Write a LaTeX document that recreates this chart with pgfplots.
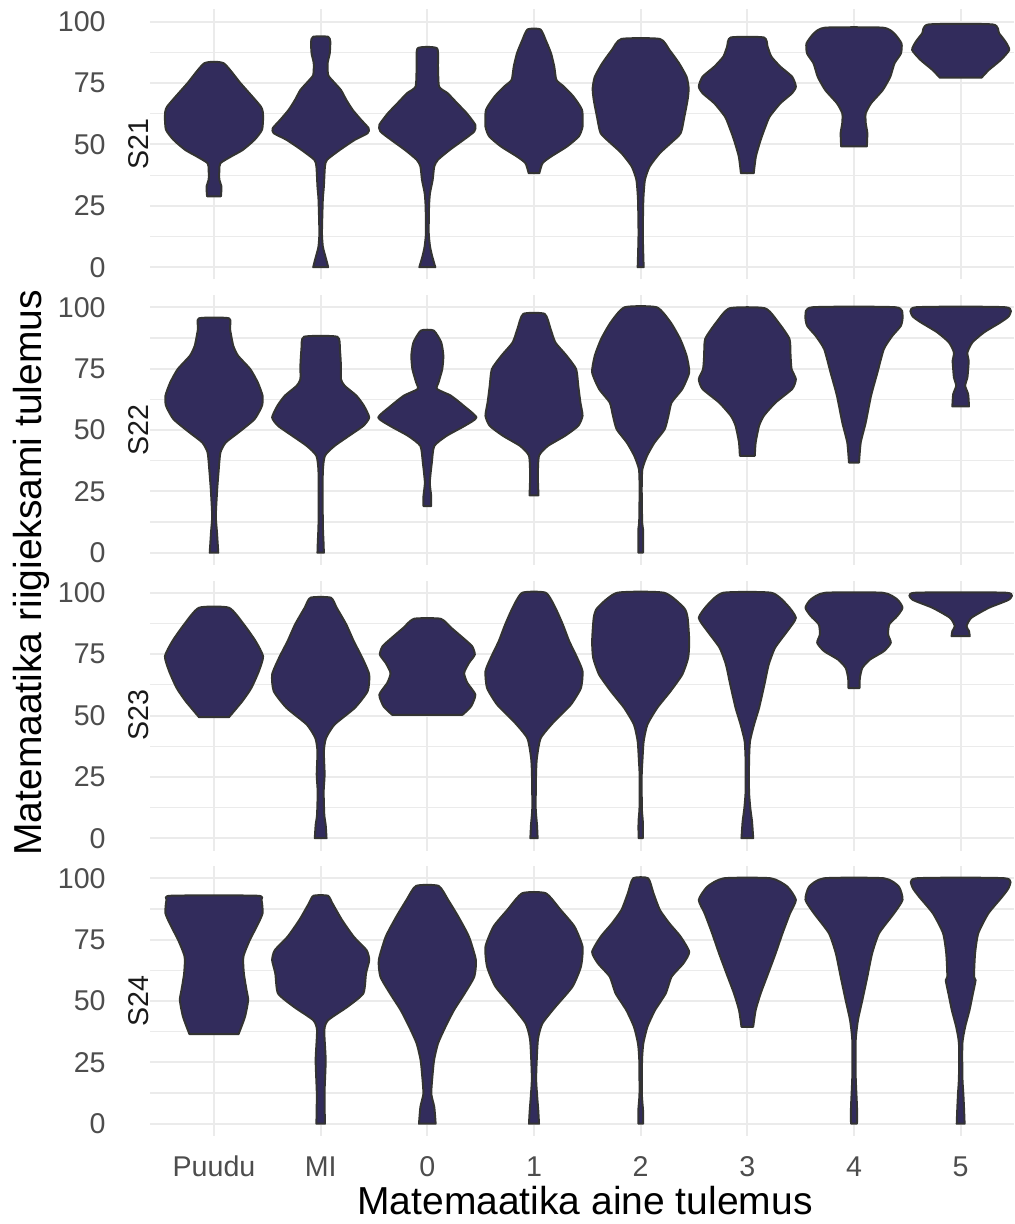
\documentclass[border=0pt]{standalone}
\usepackage{pgfplots}
\pgfplotsset{compat=1.18}
\usepackage{fontspec}
\setmainfont{Liberation Sans}
\definecolor{vfill}{RGB}{50,44,92}
\definecolor{vline}{HTML}{333333}
\definecolor{grid92}{HTML}{EBEBEB}
\definecolor{grey30}{HTML}{4D4D4D}
\definecolor{grey10}{HTML}{1A1A1A}

% #1 = category position, #2 = list of y/halfwidth (measured profile, bottom to top)
\newcommand\violin[2]{%
  \gdef\vR{}\gdef\vL{}%
  \foreach \yy/\ww in {#2}{%
    \pgfmathsetmacro\xr{#1+\ww}%
    \pgfmathsetmacro\xl{#1-\ww}%
    \xdef\vR{\vR(\xr,\yy) }%
    \xdef\vL{(\xl,\yy) \vL}%
  }%
  \edef\vtmp{\noexpand\addplot[violin] coordinates {\vR\vL} -- cycle;}%
  \vtmp
}

\pgfplotsset{
  violin/.style={fill=vfill, draw=vline, line width=1pt, line join=round, mark=none, smooth, tension=0.35},
  panel/.style={
    scale only axis, width=432pt, height=135pt, anchor=north west,
    xmin=0.4, xmax=8.5, ymin=-5, ymax=105,
    axis line style={draw=none},
    major tick length=0pt, minor tick length=0pt,
    xtick={1,...,8}, ytick={0,25,50,75,100}, minor ytick={12.5,37.5,62.5,87.5},
    xmajorgrids, ymajorgrids, yminorgrids,
    major grid style={draw=grid92, line width=1pt},
    minor grid style={draw=grid92, line width=0.6pt},
    xticklabels={},
    /pgf/number format/assume math mode=true,
    yticklabel style={font=\fontsize{14.3}{16}\selectfont, text=grey30, anchor=east, inner sep=0pt, xshift=-22pt},
  }
}

\begin{document}
\begin{tikzpicture}
\path[use as bounding box] (0,0) rectangle (507pt,-612pt);

% ---------------- S21 ----------------
\begin{axis}[panel, at={(75pt,-4.75pt)}]
\violin{1}{28.9/0.065, 32.9/0.07, 35.6/0.05, 39.7/0.05, 42.4/0.06, 45.1/0.16, 47.8/0.27, 51.9/0.38, 56.0/0.45, 61.4/0.46, 65.4/0.44, 74.9/0.25, 83.1/0.09}
\violin{2}{0/0.07, 1.8/0.06, 5.8/0.035, 8.5/0.02, 14.0/0.012, 27.5/0.02, 32.9/0.03, 41.1/0.04, 43.8/0.06, 47.8/0.18, 51.9/0.32, 54.6/0.44, 56.6/0.45, 60.0/0.38, 64.1/0.30, 68.2/0.24, 72.2/0.19, 75.6/0.12, 78.3/0.07, 83.1/0.065, 87.1/0.085, 91.9/0.09, 93.9/0.07}
\violin{3}{0/0.075, 4.5/0.045, 8.5/0.025, 14.0/0.013, 24.8/0.016, 30.2/0.025, 35.6/0.05, 41.1/0.065, 43.8/0.10, 47.8/0.21, 51.9/0.34, 55.3/0.44, 58.0/0.45, 62.7/0.37, 66.8/0.28, 70.9/0.19, 73.6/0.11, 81.7/0.10, 89.2/0.09}
\violin{4}{38.3/0.05, 42.4/0.08, 45.1/0.16, 49.2/0.31, 53.3/0.42, 57.3/0.455, 64.1/0.45, 69.5/0.37, 73.6/0.28, 76.3/0.21, 81.7/0.19, 87.1/0.16, 92.5/0.11, 96.9/0.06}
\violin{5}{0/0.028, 5.8/0.024, 14.0/0.02, 27.5/0.025, 35.6/0.04, 41.1/0.085, 46.5/0.18, 50.5/0.28, 54.6/0.375, 61.4/0.41, 68.2/0.44, 72.9/0.45, 77.6/0.43, 83.1/0.36, 88.5/0.27, 93.0/0.18}
\violin{6}{38.3/0.06, 45.1/0.08, 51.9/0.125, 57.3/0.17, 61.4/0.21, 66.8/0.31, 70.9/0.42, 73.6/0.455, 77.6/0.42, 81.7/0.31, 85.8/0.225, 89.8/0.19, 93.6/0.155}
\violin{7}{49.2/0.12, 54.6/0.125, 58.7/0.11, 62.7/0.11, 66.8/0.16, 72.2/0.27, 77.6/0.34, 83.1/0.38, 87.1/0.44, 91.2/0.445, 95.3/0.375, 97.6/0.27}
\violin{8}{77.2/0.195, 80.4/0.265, 84.4/0.375, 88.5/0.455, 91.9/0.42, 95.3/0.36, 98.9/0.30}
\end{axis}

% ---------------- S22 ----------------
\begin{axis}[panel, at={(75pt,-147.5pt)}]
\violin{1}{0/0.04, 8.2/0.028, 15.0/0.017, 25.9/0.03, 32.7/0.042, 40.8/0.06, 44.9/0.11, 49.0/0.23, 54.4/0.38, 59.9/0.45, 64.0/0.455, 69.4/0.41, 74.8/0.34, 80.3/0.225, 84.4/0.18, 91.2/0.15, 95.5/0.14}
\violin{2}{0/0.03, 4.1/0.027, 12.2/0.02, 32.7/0.02, 39.5/0.04, 43.5/0.13, 47.6/0.265, 51.7/0.40, 55.1/0.455, 59.9/0.405, 64.0/0.335, 68.0/0.225, 70.7/0.19, 76.2/0.19, 83.0/0.18, 88.0/0.155}
\violin{3}{19.0/0.036, 23.1/0.036, 28.6/0.023, 36.7/0.042, 43.5/0.065, 47.6/0.18, 51.7/0.35, 55.1/0.46, 59.9/0.34, 64.0/0.22, 66.7/0.09, 69.4/0.105, 74.8/0.14, 80.3/0.15, 85.7/0.13, 90.5/0.06}
\violin{4}{23.4/0.042, 31.3/0.036, 39.5/0.047, 43.5/0.13, 47.6/0.29, 51.7/0.415, 55.8/0.455, 61.2/0.435, 68.0/0.415, 74.8/0.395, 80.3/0.305, 85.7/0.2, 91.2/0.155, 97.3/0.10}
\violin{5}{0/0.022, 9.5/0.022, 12.2/0.014, 25.9/0.01, 34.0/0.016, 39.5/0.06, 44.9/0.13, 50.3/0.225, 55.8/0.26, 61.2/0.29, 66.7/0.39, 73.5/0.455, 80.3/0.43, 87.1/0.37, 93.9/0.28, 100/0.15}
\violin{6}{39.5/0.07, 44.9/0.078, 51.7/0.11, 55.8/0.155, 61.2/0.265, 66.7/0.42, 70.7/0.455, 74.8/0.415, 80.3/0.405, 87.1/0.395, 93.9/0.29, 99.6/0.165}
\violin{7}{36.7/0.047, 44.9/0.063, 53.1/0.11, 64.0/0.16, 73.5/0.22, 83.0/0.28, 88.4/0.36, 92.5/0.44, 96.6/0.455, 100/0.39}
\violin{8}{59.6/0.078, 64.6/0.07, 68.0/0.042, 71.4/0.063, 74.8/0.07, 78.2/0.075, 81.6/0.063, 85.7/0.11, 89.8/0.22, 93.9/0.375, 96.6/0.455, 100/0.42}
\end{axis}

% ---------------- S23 ----------------
\begin{axis}[panel, at={(75pt,-290.25pt)}]
\violin{1}{49.3/0.14, 55.8/0.265, 61.2/0.35, 68.0/0.42, 74.1/0.46, 80.3/0.39, 87.1/0.28, 93.9/0.14}
\violin{2}{0/0.055, 5.4/0.047, 9.5/0.034, 19.0/0.028, 25.9/0.037, 35.4/0.03, 40.8/0.05, 46.3/0.13, 53.1/0.32, 59.9/0.44, 66.7/0.455, 73.5/0.39, 80.3/0.31, 87.1/0.24, 93.9/0.15, 98.0/0.095}
\violin{3}{50.3/0.33, 53.7/0.41, 58.5/0.45, 63.3/0.375, 67.3/0.345, 71.4/0.39, 74.8/0.445, 78.2/0.42, 81.6/0.335, 85.7/0.225, 89.4/0.125}
\violin{4}{0/0.034, 5.4/0.028, 12.2/0.016, 25.9/0.019, 32.7/0.027, 40.8/0.063, 47.6/0.19, 54.4/0.345, 61.2/0.44, 68.0/0.455, 73.5/0.405, 80.3/0.33, 87.1/0.27, 93.9/0.2, 100/0.11}
\violin{5}{0/0.02, 6.8/0.02, 12.2/0.011, 25.9/0.01, 31.3/0.016, 39.5/0.028, 46.3/0.063, 53.1/0.155, 59.9/0.28, 66.7/0.39, 73.5/0.445, 80.3/0.455, 89.8/0.44, 93.9/0.405, 100/0.22}
\violin{6}{0/0.055, 6.8/0.044, 12.2/0.028, 19.0/0.016, 31.3/0.016, 39.5/0.025, 46.3/0.063, 53.1/0.11, 62.6/0.16, 70.7/0.2, 77.6/0.26, 84.4/0.375, 89.8/0.455, 95.2/0.37, 100/0.225}
\violin{7}{61.2/0.052, 65.3/0.055, 69.4/0.078, 72.8/0.15, 76.2/0.28, 79.6/0.345, 83.0/0.32, 87.1/0.33, 90.5/0.405, 93.9/0.455, 97.3/0.405, 100/0.27}
\violin{8}{82.3/0.085, 84.4/0.078, 86.4/0.055, 89.8/0.1, 93.9/0.265, 97.3/0.455, 100/0.43}
\end{axis}

% ---------------- S24 ----------------
\begin{axis}[panel, at={(75pt,-433pt)},
  xticklabels={Puudu,MI,0,1,2,3,4,5},
  xticklabel style={font=\fontsize{14.3}{16}\selectfont, text=grey30, anchor=base, inner sep=0pt, yshift=-20pt}]
\violin{1}{36.5/0.23, 43.5/0.29, 50.3/0.32, 54.4/0.305, 61.2/0.28, 68.0/0.275, 74.8/0.335, 80.3/0.4, 85.7/0.455, 91.2/0.445, 92.9/0.4}
\violin{2}{0/0.04, 12.2/0.036, 25.9/0.047, 38.1/0.034, 42.2/0.07, 47.6/0.25, 53.1/0.4, 61.2/0.425, 66.7/0.455, 70.7/0.43, 76.2/0.31, 83.0/0.2, 89.8/0.11, 92.9/0.067}
\violin{3}{0/0.078, 6.8/0.065, 12.2/0.037, 19.0/0.047, 25.9/0.063, 32.7/0.1, 39.5/0.17, 46.3/0.25, 53.1/0.35, 59.9/0.44, 66.7/0.455, 76.2/0.39, 84.4/0.29, 91.2/0.195, 96.9/0.105}
\violin{4}{0/0.047, 5.4/0.04, 12.2/0.028, 19.0/0.02, 34.0/0.036, 40.8/0.078, 47.6/0.2, 55.8/0.36, 64.0/0.44, 72.1/0.455, 80.3/0.38, 87.1/0.25, 93.9/0.11}
\violin{5}{0/0.022, 5.4/0.022, 12.2/0.011, 25.9/0.013, 32.7/0.025, 39.5/0.063, 46.3/0.135, 53.1/0.235, 59.9/0.29, 65.3/0.4, 70.0/0.455, 76.2/0.375, 81.6/0.27, 87.1/0.18, 93.9/0.12, 100/0.07}
\violin{6}{39.5/0.055, 46.3/0.078, 53.1/0.125, 61.2/0.195, 69.4/0.265, 77.6/0.33, 85.7/0.4, 91.2/0.455, 96.6/0.375, 100/0.22}
\violin{7}{0/0.028, 6.8/0.028, 19.0/0.016, 34.0/0.016, 42.2/0.037, 50.3/0.078, 59.9/0.125, 69.4/0.17, 77.6/0.235, 85.7/0.375, 91.2/0.455, 96.6/0.42, 100/0.28}
\violin{8}{0/0.037, 6.8/0.031, 12.2/0.025, 19.0/0.016, 32.7/0.016, 39.5/0.042, 46.3/0.083, 53.1/0.115, 58.5/0.14, 59.9/0.125, 69.4/0.135, 77.6/0.165, 85.7/0.26, 92.5/0.39, 96.6/0.455, 100/0.415}
\end{axis}

% titles and strip labels
\node[rotate=90, anchor=base, font=\fontsize{19.5}{22}\selectfont] at (20.8pt,-286.4pt) {Matemaatika riigieksami tulemus};
\node[anchor=base, font=\fontsize{19.5}{22}\selectfont] at (292.5pt,-607pt) {Matemaatika aine tulemus};
\node[rotate=90, anchor=base, text=grey10, font=\fontsize{14.3}{16}\selectfont] at (74.2pt,-72.25pt) {S21};
\node[rotate=90, anchor=base, text=grey10, font=\fontsize{14.3}{16}\selectfont] at (74.2pt,-215pt) {S22};
\node[rotate=90, anchor=base, text=grey10, font=\fontsize{14.3}{16}\selectfont] at (74.2pt,-357.75pt) {S23};
\node[rotate=90, anchor=base, text=grey10, font=\fontsize{14.3}{16}\selectfont] at (74.2pt,-500.5pt) {S24};
\end{tikzpicture}
\end{document}
